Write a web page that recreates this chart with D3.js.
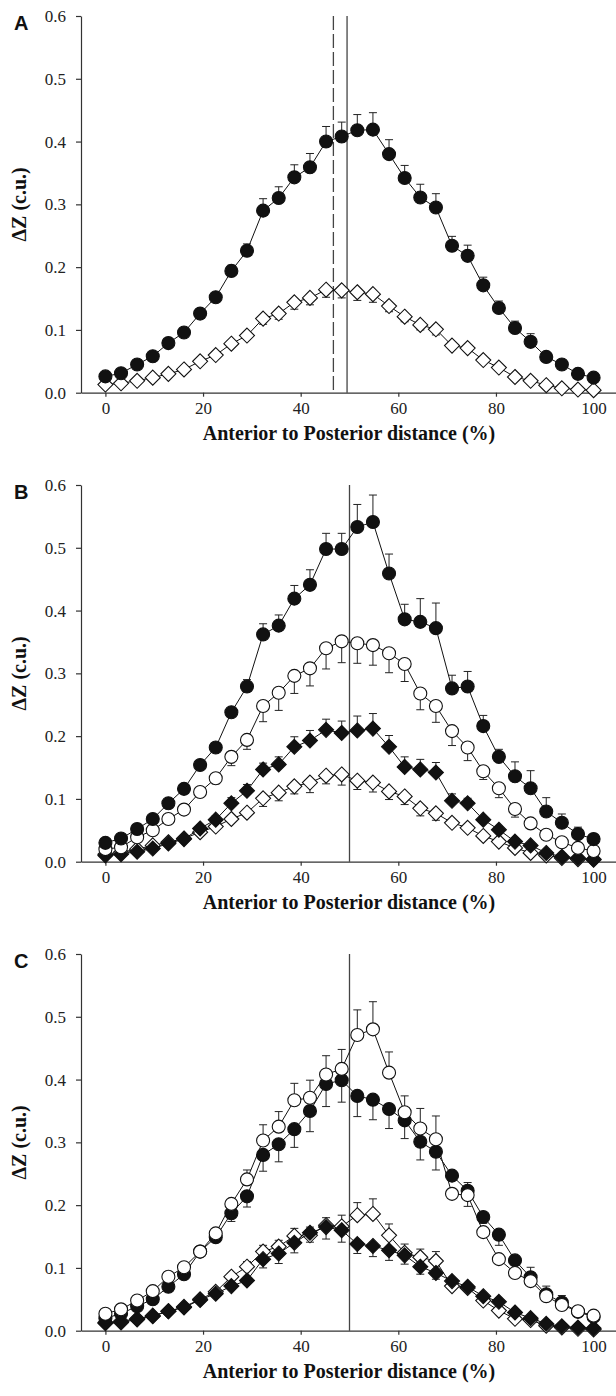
<!DOCTYPE html>
<html>
<head>
<meta charset="utf-8">
<script src="https://cdn.jsdelivr.net/npm/d3@7"></script>
<style>
  html, body { margin: 0; padding: 0; background: #fff; }
  svg { display: block; }
</style>
</head>
<body>
<svg id="chart" width="616" height="1396"></svg>
<script>
// Positions along the anterior-posterior axis (%)
const positions = [0, 3.2, 6.5, 9.7, 12.9, 16.1, 19.4, 22.6, 25.8, 29.0, 32.3, 35.5, 38.7, 41.9, 45.2, 48.4,
  51.6, 54.8, 58.1, 61.3, 64.5, 67.7, 71.0, 74.2, 77.4, 80.6, 83.9, 87.1, 90.3, 93.5, 96.8, 100];

const xTicks = [0, 20, 40, 60, 80, 100];
const yTicks = [0, 0.1, 0.2, 0.3, 0.4, 0.5, 0.6];

// Panel A
const aFilledCircle = [0.026, 0.031, 0.045, 0.058, 0.079, 0.096, 0.126, 0.152, 0.194, 0.226, 0.290, 0.310,
  0.343, 0.359, 0.400, 0.408, 0.418, 0.419, 0.380, 0.342, 0.311, 0.295, 0.234, 0.218,
  0.171, 0.135, 0.103, 0.081, 0.057, 0.045, 0.030, 0.024];
const aFilledCircleErr = [0.003, 0.003, 0.003, 0.003, 0.004, 0.004, 0.005, 0.005, 0.009, 0.011, 0.019, 0.018,
  0.020, 0.022, 0.024, 0.023, 0.025, 0.027, 0.023, 0.020, 0.021, 0.022, 0.015, 0.017,
  0.013, 0.011, 0.011, 0.013, 0.006, 0.004, 0.003, 0.003];
const aOpenDiamond = [0.013, 0.015, 0.019, 0.024, 0.030, 0.037, 0.050, 0.060, 0.078, 0.091, 0.118, 0.126,
  0.144, 0.151, 0.164, 0.163, 0.160, 0.157, 0.138, 0.121, 0.108, 0.101, 0.075, 0.071,
  0.052, 0.040, 0.025, 0.019, 0.012, 0.007, 0.005, 0.004];
const aOpenDiamondErr = [0.002, 0.002, 0.002, 0.003, 0.003, 0.003, 0.004, 0.004, 0.005, 0.006, 0.009, 0.009,
  0.011, 0.011, 0.012, 0.012, 0.013, 0.013, 0.009, 0.008, 0.008, 0.009, 0.005, 0.005,
  0.004, 0.004, 0.003, 0.003, 0.002, 0.002, 0.002, 0.002];

// Panel B
const bFilledCircle = [0.030, 0.037, 0.052, 0.068, 0.093, 0.116, 0.154, 0.182, 0.238, 0.279, 0.362, 0.376,
  0.419, 0.441, 0.498, 0.498, 0.533, 0.541, 0.459, 0.386, 0.382, 0.372, 0.276, 0.279,
  0.216, 0.167, 0.136, 0.117, 0.080, 0.062, 0.044, 0.036];
const bFilledCircleErr = [0.003, 0.003, 0.004, 0.004, 0.005, 0.005, 0.006, 0.006, 0.006, 0.011, 0.017, 0.017,
  0.021, 0.024, 0.025, 0.025, 0.036, 0.043, 0.031, 0.024, 0.037, 0.040, 0.021, 0.024,
  0.017, 0.012, 0.023, 0.028, 0.022, 0.014, 0.011, 0.008];
const bOpenCircle = [0.020, 0.023, 0.039, 0.050, 0.068, 0.083, 0.111, 0.133, 0.167, 0.194, 0.248, 0.269,
  0.296, 0.308, 0.340, 0.351, 0.348, 0.345, 0.332, 0.315, 0.268, 0.248, 0.208, 0.182,
  0.144, 0.117, 0.084, 0.061, 0.043, 0.031, 0.022, 0.017];
const bOpenCircleErr = [0.003, 0.003, 0.004, 0.004, 0.005, 0.005, 0.007, 0.009, 0.014, 0.015, 0.025, 0.028,
  0.028, 0.028, 0.033, 0.034, 0.032, 0.032, 0.031, 0.028, 0.026, 0.026, 0.023, 0.021,
  0.013, 0.015, 0.013, 0.008, 0.005, 0.004, 0.003, 0.003];
const bFilledDiamond = [0.010, 0.012, 0.016, 0.021, 0.029, 0.036, 0.053, 0.067, 0.093, 0.113, 0.147, 0.155,
  0.183, 0.193, 0.210, 0.205, 0.209, 0.212, 0.183, 0.151, 0.147, 0.142, 0.097, 0.093,
  0.067, 0.051, 0.032, 0.026, 0.014, 0.008, 0.006, 0.003];
const bFilledDiamondErr = [0.002, 0.002, 0.003, 0.003, 0.004, 0.004, 0.005, 0.006, 0.009, 0.010, 0.010, 0.012,
  0.016, 0.016, 0.017, 0.019, 0.023, 0.024, 0.018, 0.016, 0.016, 0.016, 0.011, 0.008,
  0.005, 0.005, 0.004, 0.003, 0.003, 0.002, 0.002, 0.002];
const bOpenDiamond = [0.012, 0.015, 0.020, 0.026, 0.031, 0.037, 0.047, 0.056, 0.068, 0.078, 0.101, 0.110,
  0.120, 0.126, 0.137, 0.139, 0.129, 0.126, 0.112, 0.104, 0.085, 0.077, 0.062, 0.054,
  0.041, 0.032, 0.022, 0.014, 0.010, 0.006, 0.004, 0.004];
const bOpenDiamondErr = [0.002, 0.002, 0.002, 0.003, 0.003, 0.003, 0.004, 0.004, 0.005, 0.006, 0.013, 0.013,
  0.012, 0.016, 0.013, 0.017, 0.014, 0.015, 0.013, 0.013, 0.012, 0.011, 0.005, 0.005,
  0.004, 0.004, 0.003, 0.003, 0.002, 0.002, 0.002, 0.002];

// Panel C
const cFilledCircle = [0.020, 0.027, 0.039, 0.050, 0.070, 0.090, 0.126, 0.149, 0.187, 0.214, 0.280, 0.297,
  0.321, 0.350, 0.393, 0.399, 0.374, 0.368, 0.353, 0.335, 0.301, 0.285, 0.247, 0.223,
  0.181, 0.153, 0.112, 0.085, 0.058, 0.045, 0.030, 0.022];
const cFilledCircleErr = [0.002, 0.002, 0.003, 0.003, 0.004, 0.004, 0.005, 0.005, 0.013, 0.017, 0.026, 0.028,
  0.029, 0.033, 0.036, 0.035, 0.033, 0.032, 0.031, 0.029, 0.029, 0.029, 0.007, 0.025,
  0.010, 0.017, 0.006, 0.004, 0.004, 0.003, 0.003, 0.002];
const cOpenCircle = [0.027, 0.034, 0.048, 0.063, 0.086, 0.101, 0.126, 0.155, 0.202, 0.241, 0.303, 0.325,
  0.367, 0.371, 0.408, 0.417, 0.471, 0.480, 0.411, 0.348, 0.322, 0.305, 0.218, 0.216,
  0.157, 0.114, 0.092, 0.079, 0.055, 0.041, 0.031, 0.024];
const cOpenCircleErr = [0.002, 0.002, 0.003, 0.003, 0.004, 0.004, 0.005, 0.005, 0.007, 0.015, 0.025, 0.024,
  0.027, 0.028, 0.030, 0.031, 0.040, 0.044, 0.033, 0.026, 0.032, 0.037, 0.006, 0.020,
  0.005, 0.005, 0.005, 0.022, 0.016, 0.015, 0.004, 0.003];
const cFilledDiamond = [0.012, 0.013, 0.018, 0.023, 0.031, 0.037, 0.049, 0.059, 0.071, 0.080, 0.114, 0.123,
  0.140, 0.156, 0.165, 0.160, 0.138, 0.135, 0.128, 0.120, 0.102, 0.092, 0.079, 0.070,
  0.055, 0.046, 0.029, 0.020, 0.011, 0.007, 0.005, 0.004];
const cFilledDiamondErr = [0.002, 0.002, 0.002, 0.002, 0.003, 0.003, 0.004, 0.004, 0.005, 0.005, 0.014, 0.016,
  0.016, 0.015, 0.019, 0.019, 0.015, 0.017, 0.016, 0.014, 0.012, 0.010, 0.005, 0.005,
  0.004, 0.004, 0.003, 0.003, 0.002, 0.002, 0.002, 0.002];
const cOpenDiamond = [0.013, 0.015, 0.019, 0.024, 0.031, 0.038, 0.050, 0.062, 0.086, 0.102, 0.126, 0.134,
  0.151, 0.152, 0.168, 0.166, 0.184, 0.186, 0.152, 0.124, 0.117, 0.111, 0.071, 0.068,
  0.048, 0.032, 0.019, 0.017, 0.008, 0.005, 0.003, 0.002];
const cOpenDiamondErr = [0.002, 0.002, 0.002, 0.002, 0.003, 0.003, 0.004, 0.004, 0.005, 0.008, 0.010, 0.010,
  0.012, 0.013, 0.012, 0.018, 0.020, 0.024, 0.018, 0.014, 0.013, 0.015, 0.006, 0.005,
  0.004, 0.003, 0.003, 0.002, 0.002, 0.002, 0.002, 0.002];

// Panel definitions (drawing order: first is at the back)
const panels = [
  {
    label: 'A',
    refLines: [{ x: 46.7, dashed: true }, { x: 49.5, dashed: false }],
    series: [
      { values: aOpenDiamond, err: aOpenDiamondErr, dir: -1, shape: 'diamond', filled: false },
      { values: aFilledCircle, err: aFilledCircleErr, dir: 1, shape: 'circle', filled: true }
    ]
  },
  {
    label: 'B',
    refLines: [{ x: 50, dashed: false }],
    series: [
      { values: bOpenDiamond, err: bOpenDiamondErr, dir: -1, shape: 'diamond', filled: false },
      { values: bFilledDiamond, err: bFilledDiamondErr, dir: 1, shape: 'diamond', filled: true },
      { values: bOpenCircle, err: bOpenCircleErr, dir: -1, shape: 'circle', filled: false },
      { values: bFilledCircle, err: bFilledCircleErr, dir: 1, shape: 'circle', filled: true }
    ]
  },
  {
    label: 'C',
    refLines: [{ x: 50, dashed: false }],
    series: [
      { values: cOpenDiamond, err: cOpenDiamondErr, dir: 1, shape: 'diamond', filled: false },
      { values: cFilledDiamond, err: cFilledDiamondErr, dir: -1, shape: 'diamond', filled: true },
      { values: cFilledCircle, err: cFilledCircleErr, dir: -1, shape: 'circle', filled: true },
      { values: cOpenCircle, err: cOpenCircleErr, dir: 1, shape: 'circle', filled: false }
    ]
  }
];

const svg = d3.select('#chart');
const panelStep = 469;
const plotTop = 16;
const plotBottom = 392.7;
const axisLeft = 81;
const axisColor = '#333';
const serif = '"Liberation Serif", "Times New Roman", Times, serif';
const sans = '"Liberation Sans", Arial, Helvetica, sans-serif';

const x = d3.scaleLinear().domain([-5, 105]).range([axisLeft, 618]);
const y = d3.scaleLinear().domain([0, 0.6]).range([plotBottom, plotTop]);

const circleR = 6.5;
const diamondR = 7.5;

panels.forEach((panel, pi) => {
  const g = svg.append('g').attr('transform', `translate(0,${pi * panelStep})`);

  // Reference lines
  panel.refLines.forEach(r => {
    g.append('line')
      .attr('x1', x(r.x)).attr('x2', x(r.x))
      .attr('y1', y(0.6)).attr('y2', y(0))
      .attr('stroke', '#444')
      .attr('stroke-width', 1.3)
      .attr('stroke-dasharray', r.dashed ? '14,4' : null);
  });

  // Axes
  const xAxis = g.append('g')
    .attr('transform', `translate(0,${plotBottom})`)
    .call(d3.axisBottom(x).tickValues(xTicks).tickSize(4).tickSizeOuter(0).tickPadding(5));

  const yAxis = g.append('g')
    .attr('transform', `translate(${axisLeft},0)`)
    .call(d3.axisLeft(y).tickValues(yTicks).tickFormat(d3.format('.1f')).tickSize(5).tickSizeOuter(0).tickPadding(10));

  [xAxis, yAxis].forEach(a => {
    a.attr('font-family', null).attr('font-size', null);
    a.selectAll('text')
      .style('font-family', serif)
      .style('font-size', '17px')
      .attr('fill', '#222');
    a.select('.domain').attr('stroke', axisColor).attr('stroke-width', 1.2);
    a.selectAll('.tick line').attr('stroke', axisColor).attr('stroke-width', 1.2);
  });

  // Axis titles
  g.append('text')
    .attr('x', 349).attr('y', 440)
    .attr('text-anchor', 'middle')
    .style('font-family', serif)
    .style('font-size', '20px').style('font-weight', 'bold')
    .attr('fill', '#111')
    .text('Anterior to Posterior distance (%)');

  g.append('text')
    .attr('transform', `translate(26,${(plotTop + plotBottom) / 2}) rotate(-90)`)
    .attr('text-anchor', 'middle')
    .style('font-family', serif)
    .style('font-size', '20px').style('font-weight', 'bold')
    .attr('fill', '#111')
    .text('\u0394Z (c.u.)');

  // Panel letter
  g.append('text')
    .attr('x', 14).attr('y', 30)
    .style('font-family', sans)
    .style('font-size', '20px').style('font-weight', 'bold')
    .attr('fill', '#111')
    .text(panel.label);

  const line = d3.line().x((d, i) => x(positions[i])).y(d => y(d));

  // Error bars first, then lines, then markers
  panel.series.forEach(s => {
    const eg = g.append('g').attr('stroke', '#222').attr('stroke-width', 1);
    s.values.forEach((v, i) => {
      const cx = x(positions[i]);
      const yEnd = y(v + s.dir * s.err[i]);
      eg.append('line')
        .attr('x1', cx).attr('x2', cx)
        .attr('y1', y(v)).attr('y2', yEnd);
      eg.append('line')
        .attr('x1', cx - 4).attr('x2', cx + 4)
        .attr('y1', yEnd).attr('y2', yEnd);
    });
  });

  panel.series.forEach(s => {
    g.append('path')
      .datum(s.values)
      .attr('d', line)
      .attr('fill', 'none')
      .attr('stroke', '#111')
      .attr('stroke-width', 1);

    const mg = g.append('g');
    s.values.forEach((v, i) => {
      const cx = x(positions[i]);
      const cy = y(v);
      const fill = s.filled ? '#111' : '#fff';
      if (s.shape === 'circle') {
        mg.append('circle')
          .attr('cx', cx).attr('cy', cy).attr('r', circleR)
          .attr('fill', fill).attr('stroke', '#111').attr('stroke-width', 1.1);
      } else {
        mg.append('path')
          .attr('d', `M${cx},${cy - diamondR}L${cx + diamondR},${cy}L${cx},${cy + diamondR}L${cx - diamondR},${cy}Z`)
          .attr('fill', fill).attr('stroke', '#111').attr('stroke-width', 1.1);
      }
    });
  });
});
</script>
</body>
</html>
